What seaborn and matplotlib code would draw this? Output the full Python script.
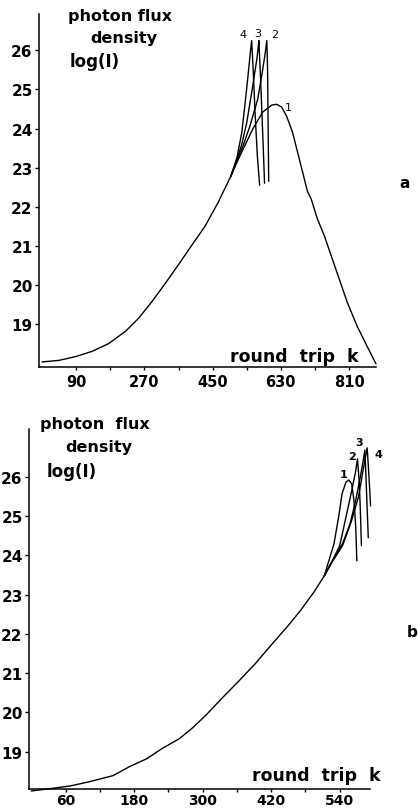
import matplotlib
matplotlib.use("Agg")
import matplotlib.pyplot as plt
import seaborn as sns

# ---------------- data: panel a ----------------
k_a1 = [0, 45, 90, 132, 176, 221, 255, 289, 326, 360, 394, 430, 464, 498, 522, 556, 582,
        606, 619, 632, 645, 661, 674, 687, 700, 710, 726, 745, 763, 784, 805, 831, 857, 881]
I_a1 = [18.03, 18.07, 18.17, 18.3, 18.5, 18.82, 19.15, 19.56, 20.05, 20.52, 21.0, 21.5, 22.1, 22.78, 23.3, 23.99, 24.42,
        24.6, 24.62, 24.55, 24.32, 23.9, 23.4, 22.9, 22.4, 22.2, 21.7, 21.25, 20.74, 20.15, 19.56, 18.95, 18.44, 17.98]
k_a2 = [498, 515, 530, 548, 569, 582, 589, 593, 595, 596, 597, 598]
I_a2 = [22.78, 23.2, 23.55, 24.05, 24.75, 25.5, 25.95, 26.25, 25.5, 24.5, 23.5, 22.65]
k_a3 = [498, 512, 527, 540, 556, 567, 570, 572, 576, 580, 584, 587]
I_a3 = [22.78, 23.15, 23.6, 24.15, 25.1, 25.8, 26.05, 26.25, 25.4, 24.4, 23.4, 22.6]
k_a4 = [498, 514, 527, 538, 546, 550, 553, 557, 562, 568, 574]
I_a4 = [22.78, 23.25, 23.9, 24.85, 25.6, 26.0, 26.25, 25.5, 24.4, 23.3, 22.55]

# ---------------- data: panel b ----------------
k_b1 = [0, 34, 69, 103, 143, 172, 202, 229, 259, 281, 305, 333, 362, 392, 419, 449, 471, 495, 513,
        530, 539, 544, 551, 556, 561, 565, 568, 570]
I_b1 = [18.0, 18.06, 18.13, 18.24, 18.39, 18.62, 18.82, 19.08, 19.33, 19.59, 19.92, 20.35, 20.78, 21.24, 21.7, 22.2, 22.59, 23.07, 23.48,
        24.3, 25.06, 25.57, 25.87, 25.92, 25.82, 25.39, 24.73, 23.86]
k_b2 = [513, 527, 540, 551, 561, 568, 571, 574, 576, 578]
I_b2 = [23.48, 23.86, 24.25, 24.98, 25.65, 26.15, 26.46, 25.9, 25.2, 24.25]
k_b3 = [513, 527, 545, 558, 568, 577, 584, 586, 588, 590]
I_b3 = [23.48, 23.86, 24.3, 24.8, 25.4, 26.07, 26.68, 26.0, 25.2, 24.45]
k_b4 = [513, 527, 545, 560, 573, 580, 588, 590, 592, 594]
I_b4 = [23.48, 23.84, 24.25, 24.85, 25.5, 26.1, 26.74, 26.3, 25.8, 25.26]

yticks = [19, 20, 21, 22, 23, 24, 25, 26]
xticks_a = [90, 180, 270, 360, 450, 540, 630, 720, 810]
xlabels_a = [90, 270, 450, 630, 810]
xticks_b = [60, 120, 180, 240, 300, 360, 420, 480, 540]
xlabels_b = [60, 180, 300, 420, 540]

sns.set_style("ticks")
plt.rcParams['font.family'] = ['DejaVu Sans']
plt.rcParams.update({"text.color": "black", "xtick.color": "black", "ytick.color": "black",
                     "axes.edgecolor": "black", "axes.labelcolor": "black"})

W, H = 418, 812
fig = plt.figure(figsize=(W / 100, H / 100), dpi=100)

def px_axes(l, r, t, b):
    return fig.add_axes([l / W, 1 - b / H, (r - l) / W, (b - t) / H])

def ftext(x, y, s, **kw):
    fig.text(x / W, 1 - y / H, s, **kw)

def style(ax, xt, xlab, xlim, ylim, xpad):
    ax.set_xlim(*xlim)
    ax.set_ylim(*ylim)
    for s in ["top", "right"]:
        ax.spines[s].set_visible(False)
    for s in ["left", "bottom"]:
        ax.spines[s].set_linewidth(1.1)
    ax.set_yticks(yticks)
    ax.set_yticklabels([str(v) for v in yticks], fontsize=11, fontweight="bold")
    ax.set_xticks(xt)
    ax.set_xticklabels([str(v) if v in xlab else "" for v in xt], fontsize=10.5, fontweight="bold")
    ax.tick_params(axis="y", direction="out", length=3, width=1, pad=1.5)
    ax.tick_params(axis="x", direction="out", length=2.5, width=1, pad=xpad)
    ax.set_xlabel("")
    ax.set_ylabel("")

def draw(ax, k, I):
    sns.lineplot(x=k, y=I, ax=ax, color="black", linewidth=1.0, sort=False,
                 estimator=None, clip_on=False)

# panel a
axa = px_axes(39, 376, 15, 368)
for k, I in [(k_a1, I_a1), (k_a2, I_a2), (k_a3, I_a3), (k_a4, I_a4)]:
    draw(axa, k, I)
style(axa, xticks_a, xlabels_a, (-8, 881), (17.9, 26.93), 2.5)

# panel b
axb = px_axes(29, 370, 430, 790)
for k, I in [(k_b1, I_b1), (k_b2, I_b2), (k_b3, I_b3), (k_b4, I_b4)]:
    draw(axb, k, I)
style(axb, xticks_b, xlabels_b, (-4, 593), (18.05, 27.22), 0.5)
for lab in axb.get_xticklabels():
    lab.set_fontsize(10)

bold = dict(fontweight="bold", va="center", ha="left")
# panel a texts
ftext(68, 17, "photon flux", fontsize=11.5, **bold)
ftext(90, 38, "density", fontsize=11.5, **bold)
ftext(70, 62, "log(I)", fontsize=12, **bold)
ftext(230, 357, "round  trip  k", fontsize=12.5, **bold)
ftext(405, 183, "a", fontsize=11, fontweight="bold", va="center", ha="center")
for s, x, y in [("4", 243, 35), ("3", 258, 34), ("2", 275, 35), ("1", 288, 108)]:
    ftext(x, y, s, fontsize=8, va="center", ha="center")

# panel b texts
ftext(40, 425, "photon  flux", fontsize=11.5, **bold)
ftext(65, 448, "density", fontsize=11.5, **bold)
ftext(47, 472, "log(I)", fontsize=12, **bold)
ftext(252, 776, "round  trip  k", fontsize=12.5, **bold)
ftext(412, 633, "b", fontsize=11, fontweight="bold", va="center", ha="center")
for s, x, y in [("1", 344, 475), ("2", 352, 457), ("3", 359, 443), ("4", 378, 455)]:
    ftext(x, y, s, fontsize=8, fontweight="bold", va="center", ha="center")

fig.savefig("out.png", dpi=100)
